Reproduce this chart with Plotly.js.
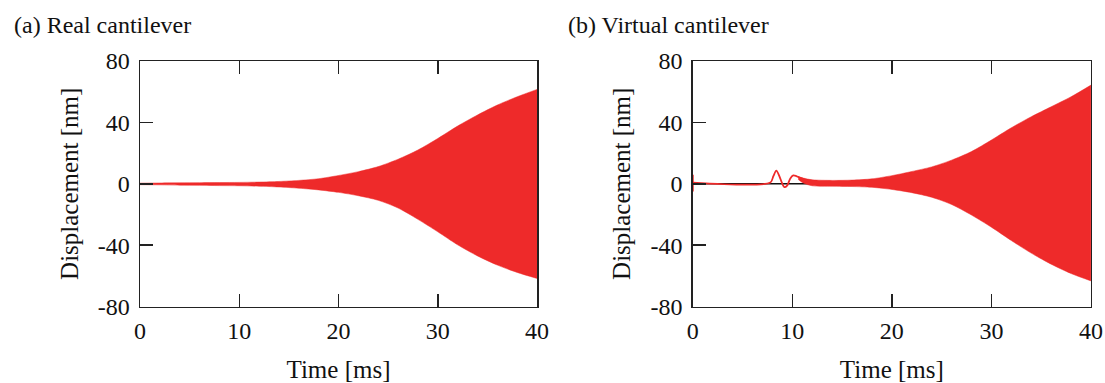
<!DOCTYPE html>
<html>
<head>
<meta charset="utf-8">
<script src="https://cdn.plot.ly/plotly-3.0.1.min.js"></script>
<style>html,body{margin:0;padding:0;background:#fff;}#chart{width:1105px;height:383px;}</style>
</head>
<body>
<div id="chart"></div>
<script>
// (a) Real cantilever: envelope of the fast oscillation
const realTime  = [0, 2, 4, 6, 8, 10, 12, 14, 16, 18, 20, 22, 24, 26, 28, 30, 32, 34, 36, 38, 40];
const realUpper = [0.4, 0.5, 0.6, 0.7, 0.8, 0.9, 1.1, 1.5, 2.2, 3.3, 5.4, 7.9, 11.2, 16, 22, 29.5, 37.6, 44.8, 51.3, 56.7, 61.5];
const realLower = [-0.6, -0.7, -0.9, -1.0, -1.2, -1.3, -1.6, -2.1, -2.9, -4.0, -5.6, -7.8, -10.8, -15.8, -23.2, -31.3, -39.8, -47, -53, -57.8, -61.7];

// (b) Virtual cantilever: initial spike at t = 0
const virtSpikeTime = [0, 0];
const virtSpikeDisp = [-5.0, 5.9];
// (b) Virtual cantilever: start-up transient (single line)
const virtTransTime = [0, 7.8, 8.1, 8.4, 8.7, 9.0, 9.2, 9.5, 9.8, 10.1, 10.4, 10.8, 11.2, 11.6, 12.0];
const virtTransDisp = [0.8, 0.8, 5.0, 8.5, 5.0, 0.0, -2.2, -1.0, 3.5, 5.4, 5.0, 3.8, 2.8, 2.0, 1.0];
// (b) Virtual cantilever: envelope of the fast oscillation
const virtTime  = [10.6, 11.1, 12, 14, 16, 18, 20, 22, 24, 26, 28, 30, 32, 34, 36, 38, 40];
const virtUpper = [4.6, 3.7, 2.6, 2.2, 2.4, 3.2, 5.3, 8, 11, 15.4, 21, 28.5, 36.5, 43.7, 50.2, 56.7, 64.3];
const virtLower = [2.8, 0.5, -1.3, -1.6, -1.8, -2.3, -3.7, -5.8, -8.8, -13.5, -20.4, -28.3, -37, -45.2, -52.4, -58.5, -63.3];
// (b) reference zero line
const refTime = [0, 12];
const refDisp = [0, 0];

const xTicks = [0, 10, 20, 30, 40];
const yTicks = [-80, -40, 0, 40, 80];
const panelTitles = ['(a) Real cantilever', '(b) Virtual cantilever'];

const RED = 'rgb(238,42,42)';
const FONT = 'Liberation Serif, Times New Roman, serif';
const SPL = {shape: 'spline', smoothing: 0.8};

const traces = [
  {x: realTime, y: realUpper, xaxis: 'x', yaxis: 'y', mode: 'lines', line: Object.assign({width: 0.5, color: RED}, SPL), showlegend: false, hoverinfo: 'skip'},
  {x: realTime, y: realLower, xaxis: 'x', yaxis: 'y', mode: 'lines', line: Object.assign({width: 0.5, color: RED}, SPL), fill: 'tonexty', fillcolor: RED, showlegend: false, hoverinfo: 'skip'},
  {x: refTime, y: refDisp, xaxis: 'x2', yaxis: 'y2', mode: 'lines', line: {width: 1.5, color: '#111'}, showlegend: false},
  {x: virtSpikeTime, y: virtSpikeDisp, xaxis: 'x2', yaxis: 'y2', mode: 'lines', line: {width: 2, color: RED}, showlegend: false},
  {x: virtTransTime, y: virtTransDisp, xaxis: 'x2', yaxis: 'y2', mode: 'lines', line: Object.assign({width: 1.8, color: RED}, SPL), showlegend: false},
  {x: virtTime, y: virtUpper, xaxis: 'x2', yaxis: 'y2', mode: 'lines', line: Object.assign({width: 0.5, color: RED}, SPL), showlegend: false, hoverinfo: 'skip'},
  {x: virtTime, y: virtLower, xaxis: 'x2', yaxis: 'y2', mode: 'lines', line: Object.assign({width: 0.5, color: RED}, SPL), fill: 'tonexty', fillcolor: RED, showlegend: false, hoverinfo: 'skip'}
];

function xa(domain, anchor) {
  return {
    domain: domain, anchor: anchor, range: [0, 40], tickvals: xTicks, ticktext: xTicks.map(String),
    ticks: 'inside', ticklen: 13, tickwidth: 1.5, tickcolor: '#222',
    showline: true, linecolor: '#222', linewidth: 1.5, mirror: 'ticks',
    showgrid: false, zeroline: false, ticklabelstandoff: 2,
    tickfont: {family: FONT, size: 24, color: '#111'},
    title: {text: 'Time [ms]', font: {family: FONT, size: 25, color: '#111'}, standoff: 22}
  };
}
function ya(domain, anchor) {
  return {
    domain: domain, anchor: anchor, range: [-80, 80], tickvals: yTicks, ticktext: yTicks.map(String),
    ticks: 'inside', ticklen: 13, tickwidth: 1.5, tickcolor: '#222',
    showline: true, linecolor: '#222', linewidth: 1.5, mirror: true,
    showgrid: false, zeroline: false, ticklabelstandoff: 4,
    tickfont: {family: FONT, size: 24, color: '#111'},
    title: {text: 'Displacement [nm]', font: {family: FONT, size: 25, color: '#111'}, standoff: 12}
  };
}

const yDom = [0.1997, 0.8407];
const layout = {
  width: 1105, height: 383,
  margin: {l: 0, r: 0, t: 0, b: 0},
  paper_bgcolor: '#fff', plot_bgcolor: '#fff',
  font: {family: FONT, color: '#111'},
  xaxis: xa([0.1267, 0.4860], 'y'),
  yaxis: ya(yDom, 'x'),
  xaxis2: xa([0.6269, 0.9873], 'y2'),
  yaxis2: ya(yDom, 'x2'),
  annotations: [
    {text: panelTitles[0], xref: 'paper', yref: 'paper', x: 12 / 1105, y: 1 - 25 / 383, xanchor: 'left', yanchor: 'middle', showarrow: false, font: {family: FONT, size: 24, color: '#111'}},
    {text: panelTitles[1], xref: 'paper', yref: 'paper', x: 566 / 1105, y: 1 - 25 / 383, xanchor: 'left', yanchor: 'middle', showarrow: false, font: {family: FONT, size: 24, color: '#111'}}
  ],
  showlegend: false
};

Plotly.newPlot('chart', traces, layout, {staticPlot: true, displayModeBar: false});
</script>
</body>
</html>
